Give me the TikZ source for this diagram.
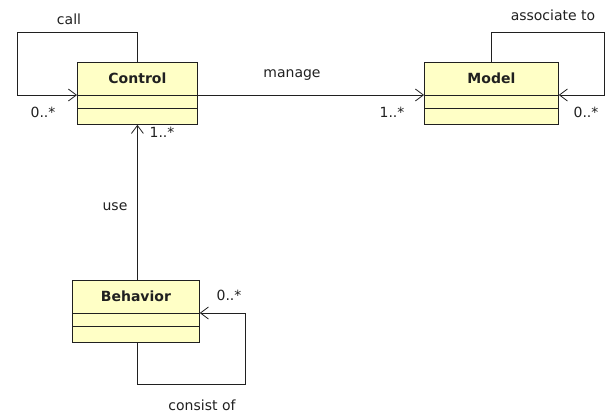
\documentclass[tikz,border=0pt]{standalone}
\usepackage{fontspec}
\setmainfont{DejaVu Sans}
\definecolor{umlyellow}{HTML}{FFFFC6}
\definecolor{umlink}{HTML}{202020}
\usetikzlibrary{arrows.meta}

\tikzset{
  classbox/.style={draw=umlink,fill=umlyellow,line width=0.8pt,anchor=north west,
    minimum height=62pt,inner ysep=6pt,text height=15pt,text depth=35pt,
    font=\fontsize{14}{16}\selectfont\bfseries,text=umlink,
    path picture={
      \draw[umlink,line width=0.8pt]
        ([yshift=-33pt]path picture bounding box.north west) -- ([yshift=-33pt]path picture bounding box.north east)
        ([yshift=-46pt]path picture bounding box.north west) -- ([yshift=-46pt]path picture bounding box.north east);
    }},
  assoc/.style={draw=umlink,line width=0.8pt,-{Straight Barb[length=8pt,width=12pt]}},
  rolelabel/.style={font=\fontsize{14}{16}\selectfont,text=umlink,inner sep=1pt}
}

\begin{document}
\begin{tikzpicture}[x=1pt,y=-1pt]
  \useasboundingbox (0,0) rectangle (607,415);

  % classes
  \node[classbox,minimum width=120pt] (control) at (77,62) {Control};
  \node[classbox,minimum width=134pt] (model) at (424,62) {Model};
  \node[classbox,minimum width=127pt] (behavior) at (72,280) {Behavior};

  % self associations
  \coordinate (callcorner) at (17,32);
  \coordinate (assoccorner) at (604,32);
  \coordinate (consistcorner) at (245,384);
  \draw[assoc] (control.north) |- (callcorner) |- ([yshift=-33pt]control.north west);
  \draw[assoc] (model.north) |- (assoccorner) |- ([yshift=-33pt]model.north east);
  \draw[assoc] (behavior.south -| control.south) |- (consistcorner) |- ([yshift=-33pt]behavior.north east);

  % associations between classes
  \draw[assoc] ([yshift=-33pt]control.north east) -- ([yshift=-33pt]model.north west);
  \draw[assoc] (behavior.north -| control.south) -- (control.south);

  % labels and multiplicities
  \node[rolelabel] (calllbl) at (69,19) {call};
  \node[rolelabel] (callmul) at (43,112) {0..*};
  \node[rolelabel] (managelbl) at (292,75) {manage};
  \node[rolelabel] (managemul) at (392,112) {1..*};
  \node[rolelabel] (assoclbl) at (553,15) {associate to};
  \node[rolelabel] (assocmul) at (586,112) {0..*};
  \node[rolelabel] (uselbl) at (115,207) {use};
  \node[rolelabel] (usemul) at (162,132) {1..*};
  \node[rolelabel] (consistmul) at (229,295) {0..*};
  \node[rolelabel] (consistlbl) at (202,405) {consist of};
\end{tikzpicture}
\end{document}
